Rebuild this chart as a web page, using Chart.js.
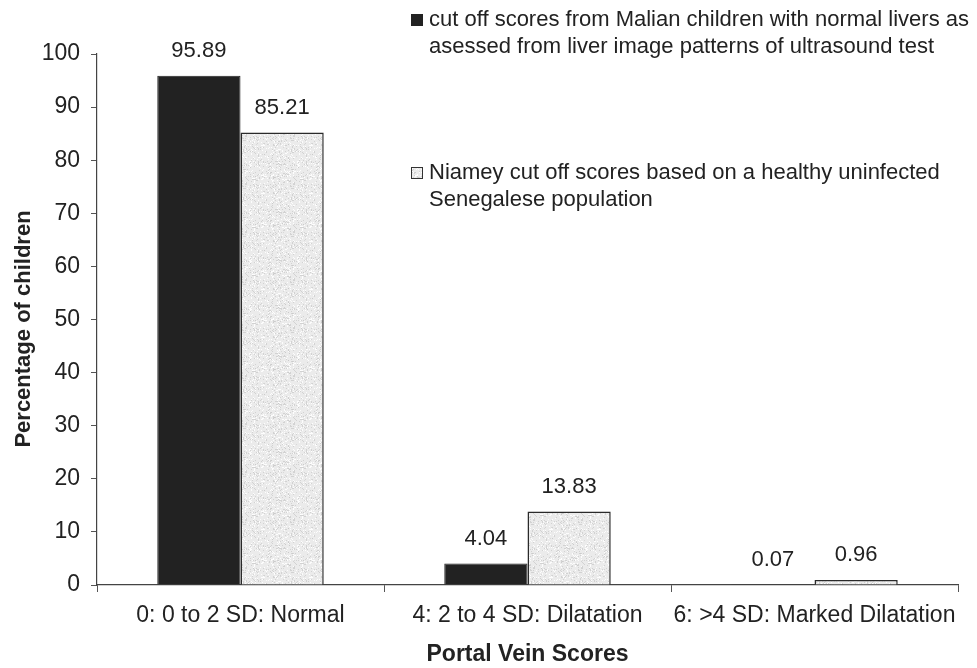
<!DOCTYPE html>
<html>
<head>
<meta charset="utf-8">
<script src="https://cdn.jsdelivr.net/npm/chart.js@4.4.1/dist/chart.umd.min.js"></script>
<style>
  html, body { margin: 0; padding: 0; background: #fff; }
  #wrap { width: 977px; height: 668px; position: relative; }
</style>
</head>
<body>
<div id="wrap"><canvas id="c" width="977" height="668"></canvas></div>
<script>
// Portal vein score categories and the share of children in each
const categories = ['0: 0 to 2 SD: Normal', '4: 2 to 4 SD: Dilatation', '6: >4 SD: Marked Dilatation'];
const malianScores = [95.89, 4.04, 0.07];
const niameyScores = [85.21, 13.83, 0.96];
const seriesNames = [
  ['cut off scores from Malian children with normal livers as', 'asessed from liver image patterns of ultrasound test'],
  ['Niamey cut off scores based on a healthy uninfected', 'Senegalese population']
];
const yTicks = [0, 10, 20, 30, 40, 50, 60, 70, 80, 90, 100];

const FONT = '"Liberation Sans", Arial, sans-serif';
const INK = '#222222';

// light stippled fill for the second series
function stipple() {
  const c = document.createElement('canvas');
  c.width = 48; c.height = 48;
  const g = c.getContext('2d');
  g.fillStyle = '#ebebeb';
  g.fillRect(0, 0, 48, 48);
  let s = 12345;
  const next = () => { s = (s * 1103515245 + 12345) & 0x7fffffff; return s / 0x7fffffff; };
  for (let i = 0; i < 600; i++) {
    const x = Math.floor(next() * 48), y = Math.floor(next() * 48);
    const v = next();
    g.fillStyle = v < 0.5 ? 'rgba(200,200,200,0.7)' : 'rgba(255,255,255,0.9)';
    g.fillRect(x, y, 1, 1);
  }
  return g.createPattern(c, 'repeat');
}
const greyFill = stipple();

// value labels above bars, legend block and rotated y title
const annotate = {
  id: 'annotate',
  afterDatasetsDraw(chart) {
    const ctx = chart.ctx;
    ctx.save();
    ctx.font = '22px ' + FONT;
    ctx.fillStyle = INK;
    ctx.textAlign = 'center';
    ctx.textBaseline = 'alphabetic';
    chart.data.datasets.forEach((ds, di) => {
      chart.getDatasetMeta(di).data.forEach((bar, i) => {
        ctx.fillText(ds.data[i].toFixed(2), bar.x, bar.y - 19);
      });
    });
    ctx.restore();
  },
  afterDraw(chart) {
    const ctx = chart.ctx;
    ctx.save();
    // legend
    ctx.font = '22px ' + FONT;
    ctx.textAlign = 'left';
    ctx.textBaseline = 'middle';
    const items = [
      { y: 20, fill: INK, stroke: INK },
      { y: 173, fill: greyFill, stroke: '#333' }
    ];
    items.forEach((it, k) => {
      ctx.fillStyle = it.fill;
      ctx.fillRect(411, it.y - 6, 12, 12);
      ctx.strokeStyle = it.stroke;
      ctx.lineWidth = 1;
      ctx.strokeRect(411.5, it.y - 5.5, 11, 11);
      ctx.fillStyle = INK;
      seriesNames[k].forEach((line, j) => {
        ctx.fillText(line, 429, it.y + j * 27);
      });
    });
    // y axis title
    ctx.translate(24, 329);
    ctx.rotate(-Math.PI / 2);
    ctx.font = 'bold 22px ' + FONT;
    ctx.textAlign = 'center';
    ctx.fillText('Percentage of children', 0, 0);
    ctx.restore();
  }
};

new Chart(document.getElementById('c'), {
  type: 'bar',
  data: {
    labels: categories,
    datasets: [
      {
        label: seriesNames[0].join(' '),
        data: malianScores,
        backgroundColor: INK,
        borderColor: INK,
        borderWidth: 1
      },
      {
        label: seriesNames[1].join(' '),
        data: niameyScores,
        backgroundColor: greyFill,
        borderColor: '#2a2a2a',
        borderWidth: 1.5
      }
    ]
  },
  options: {
    responsive: false,
    animation: false,
    events: [],
    layout: { padding: { left: 0, top: 54, right: 19, bottom: 0 } },
    datasets: { bar: { categoryPercentage: 0.58, barPercentage: 1 } },
    plugins: { legend: { display: false }, tooltip: { enabled: false } },
    scales: {
      x: {
        grid: { display: true, drawOnChartArea: false, offset: true, tickLength: 7, color: '#555', lineWidth: 1 },
        border: { display: true, color: '#444', width: 1.2 },
        ticks: { color: INK, font: { family: FONT, size: 23 }, padding: 10, maxRotation: 0, autoSkip: false },
        title: { display: true, text: 'Portal Vein Scores', color: INK, font: { family: FONT, size: 23, weight: 'bold' }, padding: { top: 0, bottom: 0 } },
        afterFit(scale) { scale.height = 83; }
      },
      y: {
        min: 0,
        max: 100,
        afterBuildTicks(scale) { scale.ticks = yTicks.map(v => ({ value: v })); },
        grid: { display: true, drawOnChartArea: false, tickLength: 6, color: '#555', lineWidth: 1 },
        border: { display: true, color: '#444', width: 1.2 },
        ticks: { color: INK, font: { family: FONT, size: 23 }, padding: 11 },
        afterFit(scale) { scale.width = 97; }
      }
    }
  },
  plugins: [annotate]
});
</script>
</body>
</html>
